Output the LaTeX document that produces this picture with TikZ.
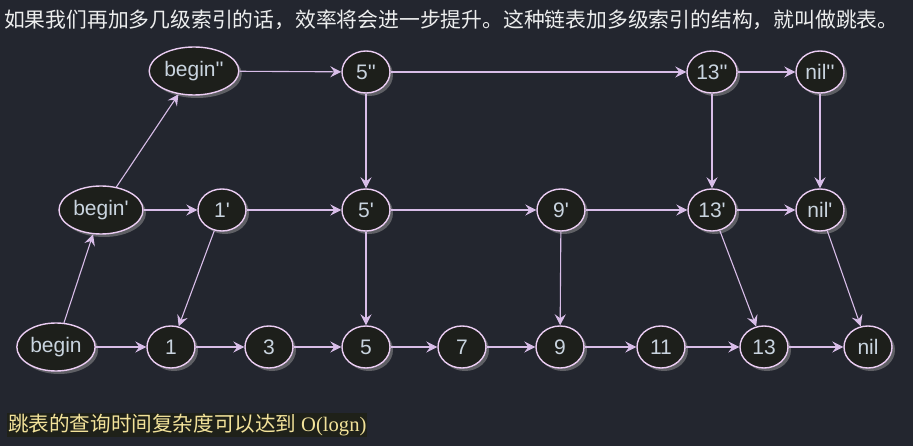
\documentclass[tikz,border=0pt]{standalone}
\usepackage{fontspec}
\setmainfont{Liberation Sans}
\newfontfamily\cjk{Noto Sans CJK SC}
\newfontfamily\serifnum{Liberation Serif}
\usetikzlibrary{shapes.geometric,shadows,arrows.meta}
\definecolor{bgcol}{HTML}{23262F}
\definecolor{nodefill}{HTML}{1D1F1B}
\definecolor{nodeline}{HTML}{EBCDF3}
\definecolor{linkcol}{HTML}{D8BDE8}
\definecolor{labelcol}{HTML}{C9D4DF}
\definecolor{notecol}{HTML}{F2E29A}
\definecolor{notebg}{HTML}{1F2119}
\newcommand{\q}{\textquotesingle}
\tikzset{
  key/.style={ellipse, draw=nodeline, line width=1.4pt, fill=nodefill,
    text=labelcol, inner xsep=2pt, inner ysep=1pt,
    minimum width=48pt, minimum height=42pt,
    font=\fontsize{21}{24}\selectfont,
    drop shadow={shadow xshift=3pt, shadow yshift=-3pt, fill=gray!70, opacity=0.45}},
  head/.style={key, minimum height=48pt},
  link/.style={draw=linkcol, line width=1.1pt,
    -{Stealth[length=11pt, width=11pt, inset=4pt]}},
}

\begin{document}
\begin{tikzpicture}[x=1pt,y=-1pt]

  % Background
  \fill[bgcol] (0,0) rectangle (913,446);
  \useasboundingbox (0,0) rectangle (913,446);

  % Texts
  \node[anchor=west, inner sep=0pt, text=white!92!bgcol,
    font=\cjk\fontsize{20.8}{24}\selectfont] (intro) at (4,20)
    {如果我们再加多几级索引的话，效率将会进一步提升。这种链表加多级索引的结构，就叫做跳表。};
  \node[anchor=west, inner sep=1pt, fill=notebg, text=notecol,
    font=\cjk\fontsize{20.6}{23}\selectfont] (note) at (7,425)
    {跳表的查询时间复杂度可以达到 {\serifnum O(logn)}};

  % Nodes: level 2
  \node[head] (bpp)   at (194,71) {begin\q\q};
  \node[key]  (n5pp)  at (366,72) {5\q\q};
  \node[key]  (n13pp) at (712,72) {13\q\q};
  \node[key]  (nilpp) at (820,72) {nil\q\q};

  % Nodes: level 1
  \node[head] (bp)   at (101,210) {begin\q};
  \node[key]  (n1p)  at (222,210) {1\q};
  \node[key]  (n5p)  at (366,210) {5\q};
  \node[key]  (n9p)  at (561,210) {9\q};
  \node[key]  (n13p) at (712,210) {13\q};
  \node[key]  (nilp) at (820,210) {nil\q};

  % Nodes: level 0
  \node[head] (b)   at (56,347) {begin};
  \node[key]  (n1)  at (171,347) {1};
  \node[key]  (n3)  at (269,347) {3};
  \node[key]  (n5)  at (366,347) {5};
  \node[key]  (n7)  at (462,347) {7};
  \node[key]  (n9)  at (560,347) {9};
  \node[key]  (n11) at (661,347) {11};
  \node[key]  (n13) at (764,347) {13};
  \node[key]  (nil) at (868,347) {nil};

  % Edges
  \foreach \a/\b in {b/n1, n1/n3, n3/n5, n5/n7, n7/n9, n9/n11, n11/n13, n13/nil,
                     bp/n1p, n1p/n5p, n5p/n9p, n9p/n13p, n13p/nilp,
                     bpp/n5pp, n5pp/n13pp, n13pp/nilpp,
                     b/bp, bp/bpp,
                     n5pp/n5p, n13pp/n13p, nilpp/nilp,
                     n1p/n1, n5p/n5, n9p/n9, n13p/n13, nilp/nil}
    \draw[link] (\a) -- (\b);

\end{tikzpicture}
\end{document}
